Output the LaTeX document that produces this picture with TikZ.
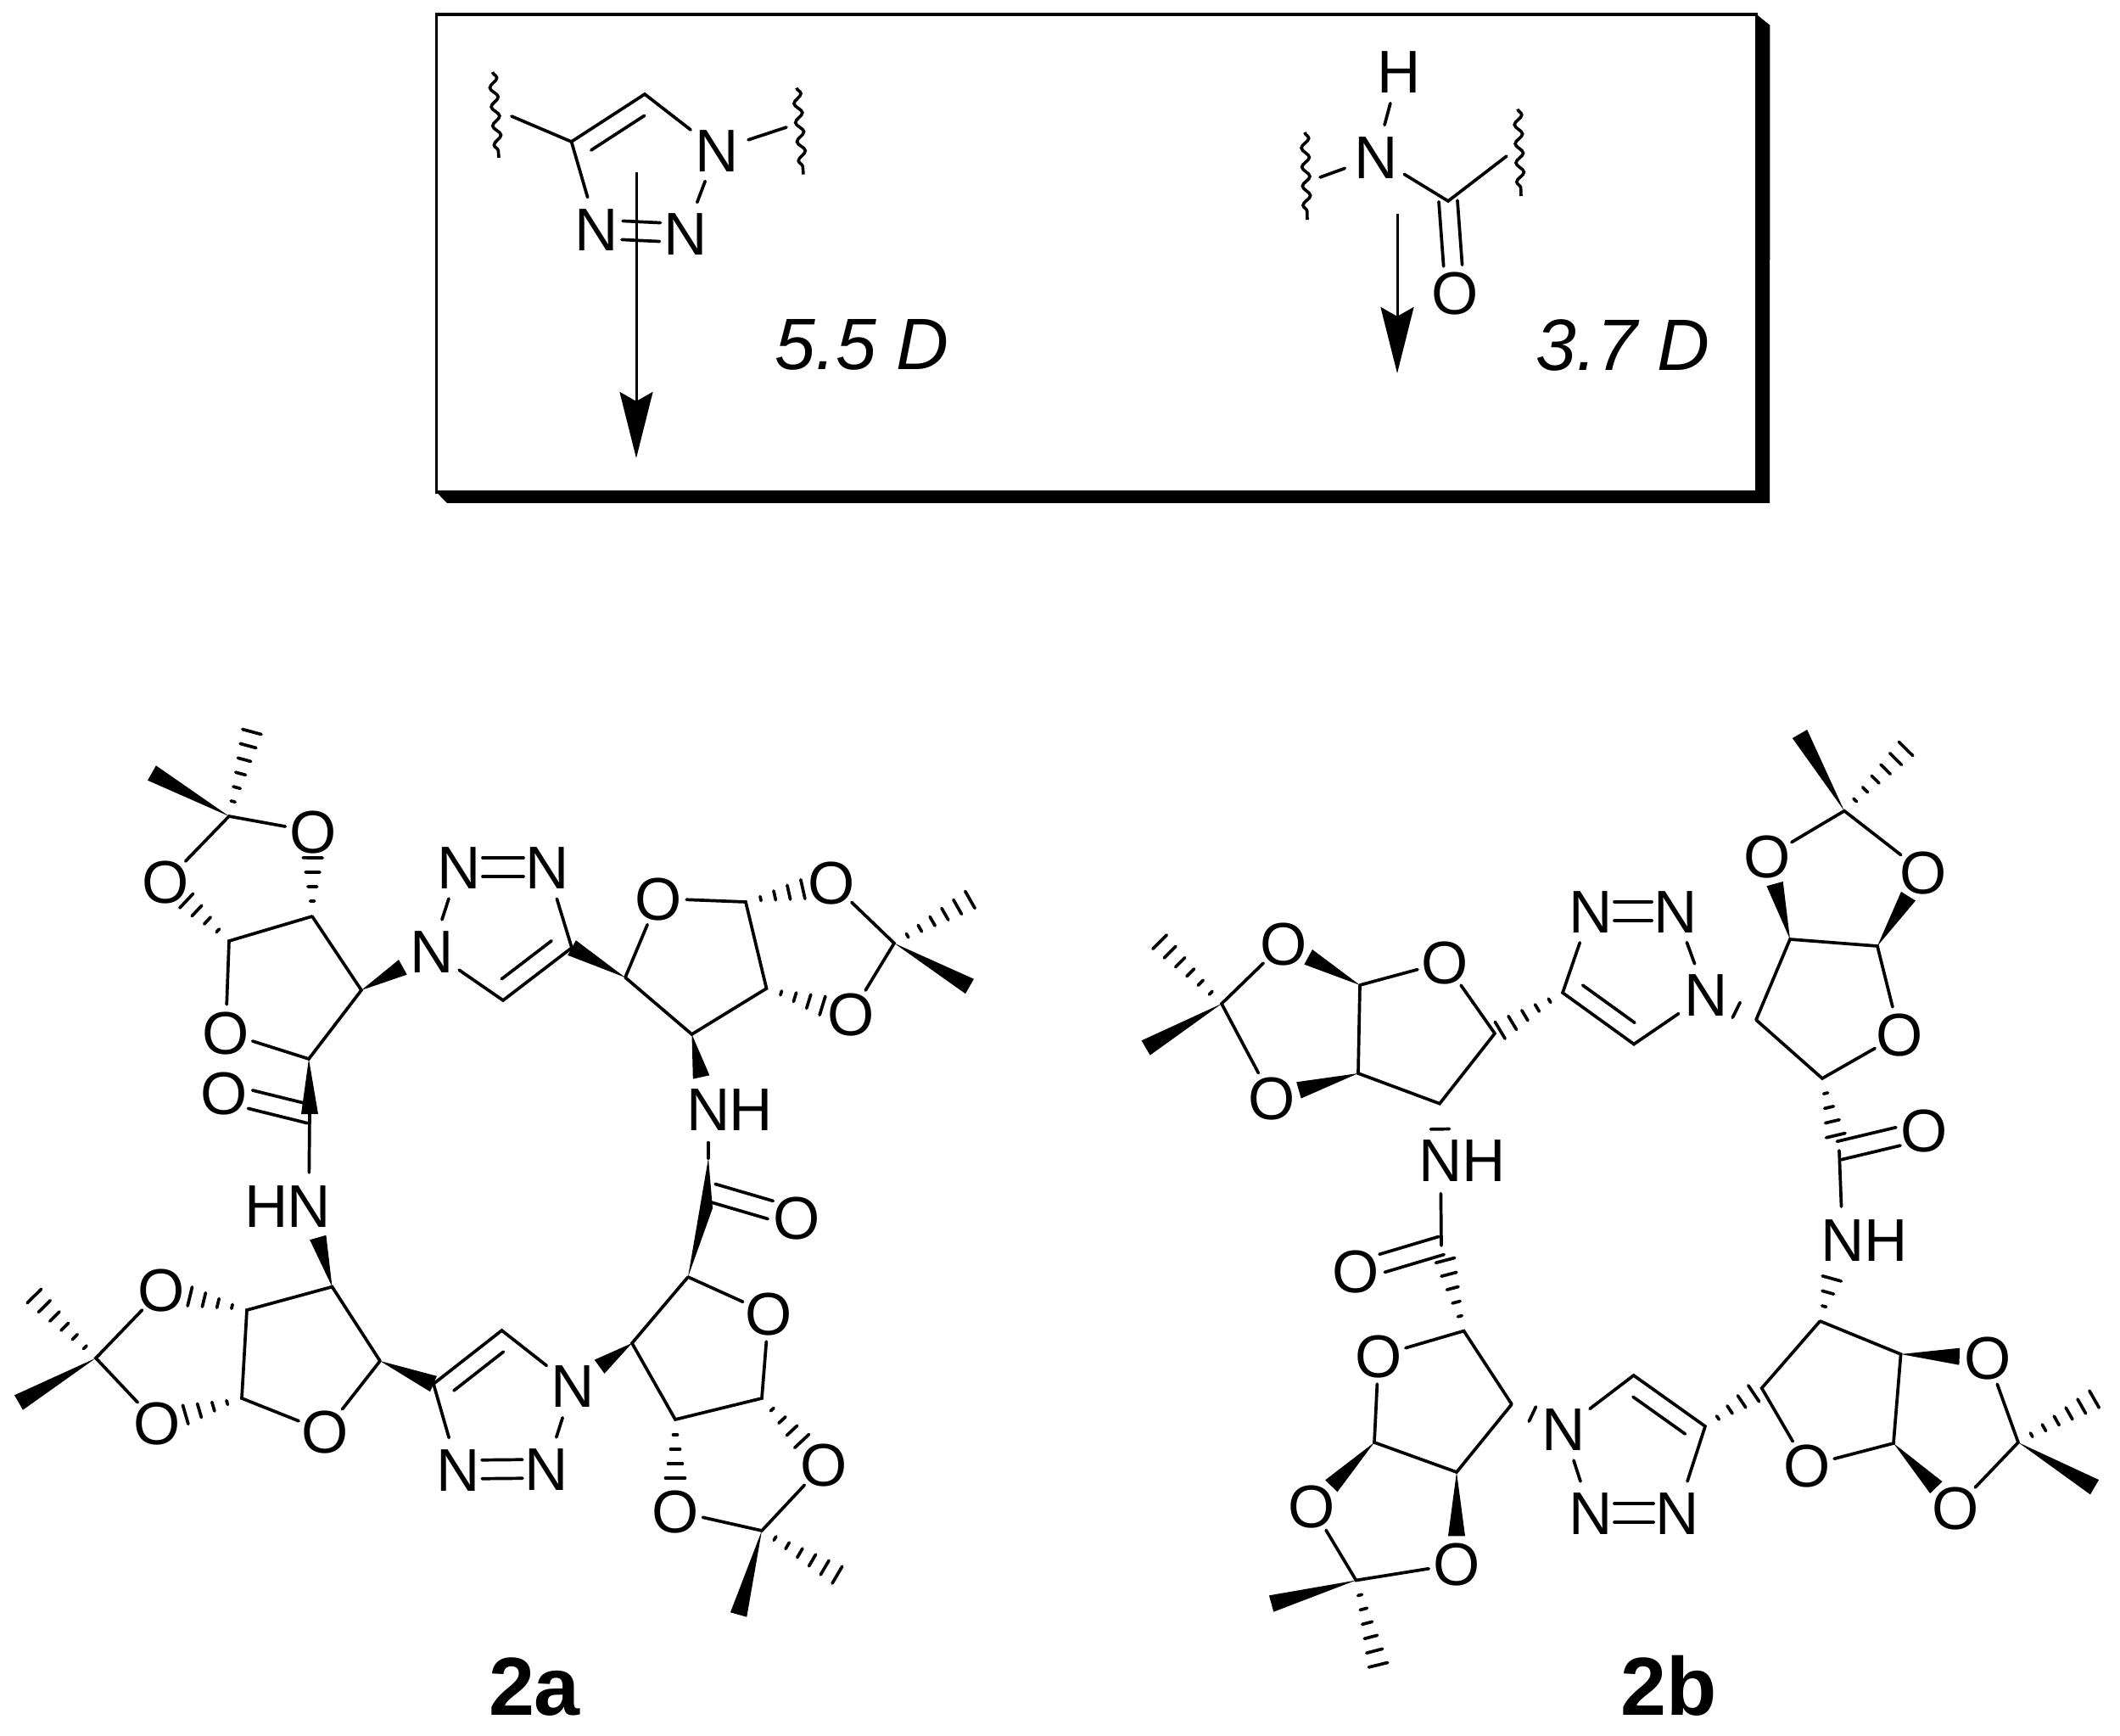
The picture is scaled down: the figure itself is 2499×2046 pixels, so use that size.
\documentclass[tikz,border=0pt]{standalone}
\usepackage{fontspec}
\setmainfont{Liberation Sans}
\usetikzlibrary{calc,arrows.meta,decorations.pathmorphing}
\tikzset{
	bond/.style={line width=0.037cm, line cap=round},
	atom/.style={circle, inner sep=0pt, outer sep=-0.04cm, minimum size=0.7cm, text height=0.5cm, text depth=0pt, font=\fontsize{20.2pt}{24pt}\selectfont},
	natom/.style={atom, minimum size=0.86cm},
	dipole/.style={line width=0.03cm, -{Stealth[length=0.78cm,width=0.39cm,inset=0.11cm]}},
	wavy/.style={line width=0.036cm, decorate, decoration={snake,amplitude=0.045cm,segment length=0.225cm}},
	moment/.style={anchor=base, font=\fontsize{24.4pt}{28pt}\selectfont\itshape},
	compound/.style={anchor=base, font=\fontsize{27.6pt}{30pt}\selectfont\bfseries}
}
\def\wedgebond(#1)(#2){\path (#1) -- (#2) coordinate[pos=1] (wt); \fill (#1.center) -- ($(wt)!0.1cm!90:(#1.center)$) -- ($(wt)!0.1cm!-90:(#1.center)$) -- cycle;}
\def\hashdash(#1)(#2)#3#4{\coordinate (hp) at ($(#1.center)!#3 cm!(#2.center)$); \draw[bond] ($(hp)!#4 cm!90:(#2.center)$) -- ($(hp)!#4 cm!-90:(#2.center)$);}
\def\hashbond(#1)(#2)#3{\foreach \i in {1,...,#3}{\pgfmathsetmacro\hd{0.18+(\i-1)*0.17} \pgfmathsetmacro\hw{0.025+0.09*(\i-1)/(#3-1)} \hashdash(#1)(#2){\hd}{\hw}}}
\def\twinbond(#1)(#2)#3#4{\foreach \s in {-0.11,0.11}{\draw[bond, shorten <=#3, shorten >=#4] ($(#1.center)!\s cm!90:(#2.center)$) -- ($(#2.center)!\s cm!-90:(#1.center)$);}}
\def\sidebond(#1)(#2)#3{\draw[bond, shorten <=0.14cm, shorten >=0.14cm] ($(#1.center)!0.21cm!#3:(#2.center)$) -- ($(#2.center)!0.21cm!-#3:(#1.center)$);}

\begin{document}
\begin{tikzpicture}[x=0.01cm, y=-0.01cm]
		%%%%% START %%%%%
		\useasboundingbox (0, 0) rectangle (2499, 2046);
		
		\node[draw, line width=0.036cm, inner sep=0pt, outer sep=0pt, minimum width=15.55cm, minimum height=5.63cm] (panel) at (1292.5, 298.5) {};
		\fill (panel.north east) -- ++(16, 13) -- (2086, 593) -- (527, 593) -- (panel.south west) -- (panel.south east) -- cycle;
		
		\coordinate (pC1) at (673.6, 167);
		\coordinate (pC2) at (760, 111);
		\coordinate (pS1) at (603, 137);
		\coordinate (pS2) at (927, 150);
		\node[natom] (pN1) at (845, 177) {N};
		\node[natom] (pN2) at (808, 275) {N};
		\node[natom] (pN3) at (703.5, 270) {N};
		\draw[bond] (pS1) -- (pC1) -- (pC2) -- (pN1);
		\draw[bond] (pN1) -- (pS2);
		\draw[bond] (pN1) -- (pN2);
		\draw[bond] (pC1) -- (pN3);
		\sidebond(pC1)(pC2){-90}
		\twinbond(pN3)(pN2){0.3cm}{0.3cm}
		\draw[wavy] (580.6, 85) -- (588, 186);
		\draw[wavy] (939, 103.6) -- (947, 205.6);
		\coordinate (pA1) at (750, 203);
		\coordinate (pA2) at (750, 540);
		\draw[dipole] (pA1) -- (pA2);
		\node[moment] (pD) at (1016, 436) {5.5 D};
		
		\coordinate (qC) at (1707, 237);
		\coordinate (qS1) at (1556, 209);
		\coordinate (qS2) at (1776, 184);
		\node[natom] (qH) at (1649, 84) {H};
		\node[natom] (qN) at (1622, 185) {N};
		\node[atom] (qO) at (1715, 345) {O};
		\draw[bond] (qS1) -- (qN);
		\draw[bond] (qH) -- (qN);
		\draw[bond] (qN) -- (qC) -- (qS2);
		\twinbond(qC)(qO){0cm}{0.32cm}
		\draw[wavy] (1538, 156) -- (1541, 259);
		\draw[wavy] (1789, 128.5) -- (1793, 231);
		\coordinate (qA1) at (1647, 252);
		\coordinate (qA2) at (1647, 440);
		\draw[dipole] (qA1) -- (qA2);
		\node[moment] (qD) at (1913, 437) {3.7 D};
		
		\coordinate (aC1) at (270, 962);
		\coordinate (aMe1w) at (179, 911);
		\coordinate (aMe1h) at (296, 866);
		\node[atom] (aO1) at (369, 980) {O};
		\node[atom] (aO2) at (195.5, 1039) {O};
		\coordinate (aC2) at (368, 1080);
		\coordinate (aC3) at (270, 1109);
		\node[atom] (aO3) at (266, 1217) {O};
		\coordinate (aC4) at (364, 1248);
		\coordinate (aC5) at (426, 1167);
		\coordinate (aC6) at (365, 1313);
		\node[atom] (aO4) at (264, 1288) {O};
		\node[natom] (aN1) at (364, 1421) {N};
		\node[natom] (aH1) at (314, 1421) {H};
		\draw[bond] (aO1) -- (aC1) -- (aO2);
		\draw[bond] (aC2) -- (aC3) -- (aO3) -- (aC4) -- (aC5) -- (aC2);
		\draw[bond] (aC6) -- (aN1);
		\wedgebond(aC1)(aMe1w)
		\hashbond(aC1)(aMe1h){6}
		\hashbond(aC2)(aO1){4}
		\hashbond(aC3)(aO2){4}
		\wedgebond(aC4)(aC6)
		\twinbond(aC6)(aO4){0cm}{0.32cm}
		
		\node[natom] (aN2) at (509, 1121) {N};
		\node[natom] (aN3) at (541, 1022) {N};
		\node[natom] (aN4) at (645, 1022) {N};
		\coordinate (aC7) at (674, 1117);
		\coordinate (aC8) at (593, 1179);
		\draw[bond] (aN2) -- (aN3);
		\draw[bond] (aN4) -- (aC7) -- (aC8) -- (aN2);
		\twinbond(aN3)(aN4){0.28cm}{0.28cm}
		\sidebond(aC8)(aC7){90}
		\wedgebond(aC5)(aN2)
		
		\coordinate (aC9) at (737, 1152);
		\node[atom] (aO5) at (776, 1059) {O};
		\coordinate (aC10) at (879, 1063);
		\coordinate (aC11) at (903.5, 1165);
		\coordinate (aC12) at (815.5, 1219);
		\node[atom] (aO6) at (980, 1040.5) {O};
		\node[atom] (aO7) at (1003, 1195.5) {O};
		\coordinate (aC13) at (1054, 1111.6);
		\coordinate (aMe2w) at (1143, 1162.5);
		\coordinate (aMe2h) at (1143, 1060.7);
		\draw[bond] (aC9) -- (aO5) -- (aC10) -- (aC11) -- (aC12) -- (aC9);
		\draw[bond] (aO6) -- (aC13) -- (aO7);
		\wedgebond(aC9)(aC7)
		\hashbond(aC10)(aO6){4}
		\hashbond(aC11)(aO7){4}
		\wedgebond(aC13)(aMe2w)
		\hashbond(aC13)(aMe2h){6}
		
		\node[natom] (aN5) at (835, 1307.6) {N};
		\node[natom] (aH2) at (885, 1307.6) {H};
		\coordinate (aC14) at (835, 1365);
		\coordinate (aC15) at (840, 1406);
		\coordinate (aC15b) at (840, 1424);
		\node[atom] (aO8) at (939, 1435) {O};
		\coordinate (aC16) at (811, 1505);
		\wedgebond(aC12)(aN5)
		\draw[bond] (aN5) -- (aC14);
		\fill (aC14) -- (aC15b) -- (aC16) -- cycle;
		\twinbond(aC15)(aO8){0cm}{0.32cm}
		
		\node[atom] (aO9) at (906, 1548) {O};
		\coordinate (aC17) at (898, 1648);
		\coordinate (aC18) at (796, 1673);
		\coordinate (aC19) at (745, 1583);
		\node[atom] (aO10) at (971, 1726) {O};
		\node[atom] (aO11) at (796, 1781) {O};
		\coordinate (aC20) at (898, 1804);
		\coordinate (aMe3w) at (870.6, 1903);
		\coordinate (aMe3h) at (985, 1855);
		\draw[bond] (aC16) -- (aO9) -- (aC17) -- (aC18) -- (aC19) -- (aC16);
		\draw[bond] (aO10) -- (aC20) -- (aO11);
		\hashbond(aC17)(aO10){4}
		\hashbond(aC18)(aO11){4}
		\wedgebond(aC20)(aMe3w)
		\hashbond(aC20)(aMe3h){6}
		
		\node[natom] (aN6) at (675, 1633.6) {N};
		\node[natom] (aN7) at (644, 1731) {N};
		\node[natom] (aN8) at (540, 1732) {N};
		\coordinate (aC21) at (511, 1631);
		\coordinate (aC22) at (591.5, 1568);
		\draw[bond] (aN6) -- (aN7);
		\draw[bond] (aN8) -- (aC21) -- (aC22) -- (aN6);
		\twinbond(aN8)(aN7){0.28cm}{0.28cm}
		\sidebond(aC21)(aC22){-90}
		\wedgebond(aC19)(aN6)
		
		\coordinate (aC23) at (448, 1604);
		\node[atom] (aO12) at (383, 1687) {O};
		\coordinate (aC24) at (285, 1648);
		\coordinate (aC25) at (291, 1544);
		\coordinate (aC26) at (391.5, 1516.6);
		\node[atom] (aO13) at (190.6, 1520) {O};
		\node[atom] (aO14) at (185, 1677) {O};
		\coordinate (aC27) at (113, 1600.6);
		\coordinate (aMe4w) at (22, 1653);
		\coordinate (aMe4h) at (41, 1528);
		\draw[bond] (aC23) -- (aO12) -- (aC24) -- (aC25) -- (aC26) -- (aC23);
		\draw[bond] (aO13) -- (aC27) -- (aO14);
		\wedgebond(aC26)(aN1)
		\wedgebond(aC23)(aC21)
		\hashbond(aC25)(aO13){4}
		\hashbond(aC24)(aO14){4}
		\wedgebond(aC27)(aMe4w)
		\hashbond(aC27)(aMe4h){6}
		
		\node[compound] (aName) at (630, 2021) {2a};
		
		\coordinate (bC1) at (1440, 1183);
		\coordinate (bMe1w) at (1350.6, 1235);
		\coordinate (bMe1h) at (1368, 1111);
		\node[atom] (bO1) at (1513, 1112) {O};
		\node[atom] (bO2) at (1499, 1294) {O};
		\coordinate (bC2) at (1603, 1161);
		\coordinate (bC3) at (1601, 1265);
		\node[atom] (bO3) at (1703, 1134) {O};
		\coordinate (bC4) at (1762, 1218);
		\coordinate (bC5) at (1697, 1300.7);
		\node[natom] (bN1) at (1698, 1367.6) {N};
		\node[natom] (bH1) at (1749.4, 1367.6) {H};
		\coordinate (bC6) at (1699, 1468);
		\node[atom] (bO4) at (1598.5, 1498) {O};
		\draw[bond] (bO1) -- (bC1) -- (bO2);
		\draw[bond] (bC2) -- (bO3) -- (bC4) -- (bC5) -- (bC3) -- (bC2);
		\draw[bond] (bN1) -- (bC6);
		\wedgebond(bC1)(bMe1w)
		\hashbond(bC1)(bMe1h){6}
		\wedgebond(bC2)(bO1)
		\wedgebond(bC3)(bO2)
		\hashdash(bC5)(bN1){0.3}{0.11}
		\twinbond(bC6)(bO4){0cm}{0.32cm}
		
		\coordinate (bC7) at (1842, 1170);
		\node[natom] (bN2) at (1875, 1074) {N};
		\node[natom] (bN3) at (1975, 1074) {N};
		\node[natom] (bN4) at (2011, 1172.6) {N};
		\coordinate (bC8) at (1926, 1230.6);
		\draw[bond] (bN2) -- (bC7) -- (bC8) -- (bN4) -- (bN3);
		\twinbond(bN2)(bN3){0.28cm}{0.28cm}
		\sidebond(bC7)(bC8){90}
		\hashbond(bC7)(bC4){5}
		
		\coordinate (bC9) at (2070, 1202);
		\coordinate (bC10) at (2110, 1107);
		\coordinate (bC11) at (2213, 1115);
		\node[atom] (bO5) at (2239, 1219) {O};
		\coordinate (bC12) at (2148, 1271);
		\node[atom] (bO6) at (2083.3, 1009.6) {O};
		\node[atom] (bO7) at (2267, 1028) {O};
		\coordinate (bC13) at (2174, 955.7);
		\coordinate (bMe2w) at (2121.5, 865);
		\coordinate (bMe2h) at (2246, 883);
		\draw[bond] (bC9) -- (bC10) -- (bC11) -- (bO5) -- (bC12) -- (bC9);
		\draw[bond] (bO6) -- (bC13) -- (bO7);
		\wedgebond(bC10)(bO6)
		\wedgebond(bC11)(bO7)
		\wedgebond(bC13)(bMe2w)
		\hashbond(bC13)(bMe2h){6}
		\hashdash(bC9)(bN4){0.26}{0.1}
		
		\coordinate (bC14) at (2168, 1356);
		\node[atom] (bO8) at (2268.6, 1332) {O};
		\node[natom] (bN5) at (2172, 1461) {N};
		\node[natom] (bH2) at (2223, 1461) {H};
		\draw[bond] (bC14) -- (bN5);
		\hashbond(bC12)(bC14){4}
		\twinbond(bC14)(bO8){0cm}{0.32cm}
		
		\coordinate (bC15) at (2145.4, 1557);
		\coordinate (bC16) at (2240.6, 1596);
		\coordinate (bC17) at (2232, 1701);
		\node[atom] (bO9) at (2130, 1727.6) {O};
		\coordinate (bC18) at (2076.7, 1636);
		\node[atom] (bO10) at (2343, 1600) {O};
		\node[atom] (bO11) at (2305.4, 1777) {O};
		\coordinate (bC19) at (2379, 1700);
		\coordinate (bMe3w) at (2469, 1752.7);
		\coordinate (bMe3h) at (2467, 1650);
		\draw[bond] (bC15) -- (bC16) -- (bC17) -- (bO9) -- (bC18) -- (bC15);
		\draw[bond] (bO10) -- (bC19) -- (bO11);
		\hashbond(bC15)(bN5){3}
		\wedgebond(bC16)(bO10)
		\wedgebond(bC17)(bO11)
		\wedgebond(bC19)(bMe3w)
		\hashbond(bC19)(bMe3h){6}
		
		\coordinate (bC20) at (2010, 1681);
		\coordinate (bC21) at (1925.7, 1621);
		\node[natom] (bN6) at (1843, 1684) {N};
		\node[natom] (bN7) at (1875, 1783) {N};
		\node[natom] (bN8) at (1977, 1783) {N};
		\draw[bond] (bN8) -- (bC20) -- (bC21) -- (bN6) -- (bN7);
		\twinbond(bN7)(bN8){0.28cm}{0.28cm}
		\sidebond(bC21)(bC20){-90}
		\hashbond(bC20)(bC18){4}
		
		\coordinate (bC22) at (1782, 1655);
		\coordinate (bC23) at (1717, 1735);
		\coordinate (bC24) at (1620, 1700);
		\node[atom] (bO12) at (1625, 1598) {O};
		\coordinate (bC25) at (1725.5, 1568.6);
		\node[atom] (bO13) at (1546, 1775) {O};
		\node[atom] (bO14) at (1717, 1843.5) {O};
		\coordinate (bC26) at (1598.5, 1862.5);
		\coordinate (bMe4w) at (1498.6, 1890);
		\coordinate (bMe4h) at (1624.5, 1962);
		\draw[bond] (bC22) -- (bC23) -- (bC24) -- (bO12) -- (bC25) -- (bC22);
		\draw[bond] (bO13) -- (bC26) -- (bO14);
		\hashdash(bC22)(bN6){0.27}{0.095}
		\hashbond(bC25)(bC6){5}
		\wedgebond(bC24)(bO13)
		\wedgebond(bC23)(bO14)
		\wedgebond(bC26)(bMe4w)
		\hashbond(bC26)(bMe4h){6}
		
		\node[compound] (bName) at (1967, 2021) {2b};
		%%%%% END %%%%%
	\end{tikzpicture}
\end{document}
